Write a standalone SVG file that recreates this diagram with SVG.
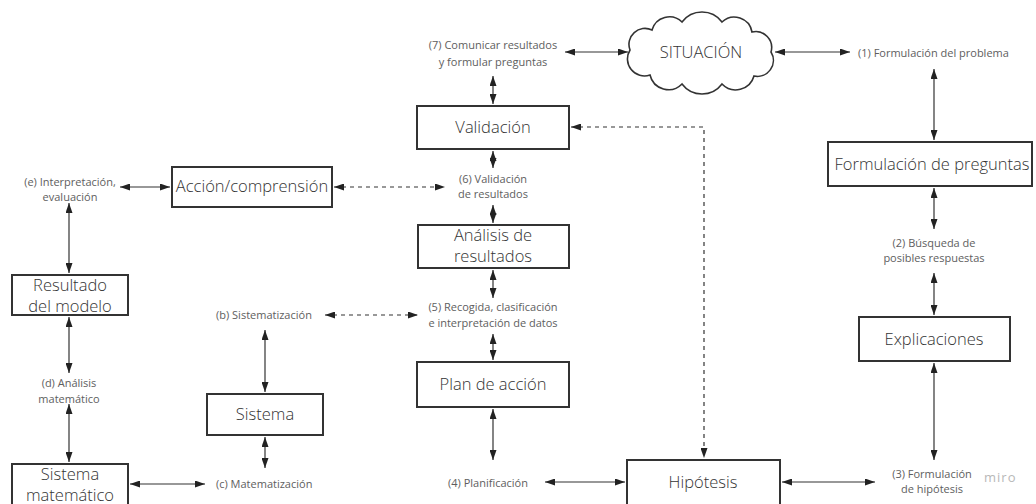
<svg xmlns="http://www.w3.org/2000/svg" width="1036" height="504" viewBox="0 0 1036 504">
  <style>
    .box { fill: #ffffff; stroke: #333333; stroke-width: 2; }
    .cloud { fill: #ffffff; stroke: #333333; stroke-width: 1.6; }
    .node-text { font-family: "Open Sans", "Liberation Sans", sans-serif; font-size: 16.5px; font-weight: 300; fill: #333333; text-anchor: middle; }
    .label { font-family: "Open Sans", "Liberation Sans", sans-serif; font-size: 11px; fill: #5e5e5e; }
    .mid { text-anchor: middle; }
    .link { fill: none; stroke: #333333; stroke-width: 1.2; marker-start: url(#tip); marker-end: url(#tip); }
    .dash { stroke-dasharray: 4 4; }
    .brand { font-family: "Open Sans", "Liberation Sans", sans-serif; font-size: 13px; fill: #b8b8b8; letter-spacing: 1px; }
  </style>
  <defs>
    <marker id="tip" viewBox="0 0 10 7" refX="10" refY="3.5" markerWidth="10" markerHeight="7" markerUnits="userSpaceOnUse" orient="auto-start-reverse">
      <path d="M0,0 L10,3.5 L0,7 z" fill="#222222"/>
    </marker>
  </defs>

  <rect width="1036" height="504" fill="#ffffff"/>

  <!-- connectors -->
  <g id="connectors">
    <!-- top row -->
    <line class="link" x1="565" y1="52" x2="628" y2="52"/>
    <line class="link" x1="775" y1="52" x2="850" y2="52"/>
    <!-- central column -->
    <line class="link" x1="493" y1="76" x2="493" y2="104"/>
    <line class="link" x1="493" y1="151" x2="493" y2="168"/>
    <line class="link" x1="493" y1="205" x2="493" y2="223"/>
    <line class="link" x1="493" y1="270" x2="493" y2="298"/>
    <line class="link" x1="493" y1="334" x2="493" y2="360"/>
    <line class="link" x1="493" y1="409" x2="493" y2="460"/>
    <!-- right column -->
    <line class="link" x1="934" y1="69" x2="934" y2="140"/>
    <line class="link" x1="934" y1="188" x2="934" y2="229"/>
    <line class="link" x1="934" y1="273" x2="934" y2="315"/>
    <line class="link" x1="934" y1="363" x2="934" y2="460"/>
    <!-- bottom row -->
    <line class="link" x1="875" y1="482" x2="782" y2="482"/>
    <line class="link" x1="545" y1="482" x2="625" y2="482"/>
    <!-- left column -->
    <line class="link" x1="120" y1="187" x2="170" y2="187"/>
    <line class="link" x1="69" y1="203" x2="69" y2="273"/>
    <line class="link" x1="69" y1="317" x2="69" y2="373"/>
    <line class="link" x1="69" y1="404" x2="69" y2="462"/>
    <line class="link" x1="130" y1="484" x2="205" y2="484"/>
    <line class="link" x1="265" y1="330" x2="265" y2="392"/>
    <line class="link" x1="265" y1="437" x2="265" y2="468"/>
    <!-- dashed links -->
    <line class="link dash" x1="334" y1="187" x2="445" y2="187"/>
    <line class="link dash" x1="325" y1="315" x2="418" y2="315"/>
    <path class="link dash" d="M571,127 L704,127 L704,458"/>
  </g>

  <!-- nodes -->
  <g id="situacion">
    <path class="cloud" d="M630,50 A16,16 0 0 1 652,30 A18,18 0 0 1 682,22 A25,25 0 0 1 722,22 A18,18 0 0 1 752,32 A16,16 0 0 1 771,52 A16,16 0 0 1 754,76 A19,19 0 0 1 722,84 A25,25 0 0 1 682,84 A19,19 0 0 1 650,75 A17,17 0 0 1 630,50 z"/>
    <text class="node-text" x="701" y="58">SITUACIÓN</text>
  </g>
  <g id="validacion">
    <rect class="box" x="417" y="106" width="152" height="43"/>
    <text class="node-text" x="493" y="133">Validación</text>
  </g>
  <g id="accion-comprension">
    <rect class="box" x="172" y="167" width="160" height="40"/>
    <text class="node-text" x="252" y="192">Acción/comprensión</text>
  </g>
  <g id="analisis-resultados">
    <rect class="box" x="418" y="225" width="151" height="43"/>
    <text class="node-text" x="493" y="241">Análisis de</text>
    <text class="node-text" x="493" y="262">resultados</text>
  </g>
  <g id="resultado-modelo">
    <rect class="box" x="12" y="275" width="116" height="40"/>
    <text class="node-text" x="70" y="291">Resultado</text>
    <text class="node-text" x="70" y="312">del modelo</text>
  </g>
  <g id="sistema">
    <rect class="box" x="207" y="394" width="116" height="41"/>
    <text class="node-text" x="265" y="420">Sistema</text>
  </g>
  <g id="sistema-matematico">
    <rect class="box" x="12" y="464" width="116" height="46"/>
    <text class="node-text" x="70" y="480">Sistema</text>
    <text class="node-text" x="70" y="501">matemático</text>
  </g>
  <g id="plan-accion">
    <rect class="box" x="417" y="362" width="152" height="45"/>
    <text class="node-text" x="493" y="390">Plan de acción</text>
  </g>
  <g id="hipotesis">
    <rect class="box" x="627" y="460" width="153" height="48"/>
    <text class="node-text" x="703" y="488">Hipótesis</text>
  </g>
  <g id="formulacion-preguntas">
    <rect class="box" x="828" y="142" width="204" height="44"/>
    <text class="node-text" x="932" y="170">Formulación de preguntas</text>
  </g>
  <g id="explicaciones">
    <rect class="box" x="859" y="317" width="151" height="44"/>
    <text class="node-text" x="934" y="345">Explicaciones</text>
  </g>

  <!-- step labels -->
  <g id="labels">
    <text class="label mid" x="493" y="49">(7) Comunicar resultados</text>
    <text class="label mid" x="493" y="66">y formular preguntas</text>
    <text class="label" x="858" y="57">(1) Formulación del problema</text>
    <text class="label mid" x="70" y="186">(e) Interpretación,</text>
    <text class="label mid" x="70" y="201">evaluación</text>
    <text class="label mid" x="493" y="183">(6) Validación</text>
    <text class="label mid" x="493" y="198">de resultados</text>
    <text class="label mid" x="934" y="247">(2) Búsqueda de</text>
    <text class="label mid" x="934" y="262">posibles respuestas</text>
    <text class="label" x="216" y="319">(b) Sistematización</text>
    <text class="label mid" x="493" y="311">(5) Recogida, clasificación</text>
    <text class="label mid" x="493" y="327">e interpretación de datos</text>
    <text class="label mid" x="69" y="387">(d) Análisis</text>
    <text class="label mid" x="69" y="403">matemático</text>
    <text class="label" x="216" y="488">(c) Matematización</text>
    <text class="label" x="448" y="487">(4) Planificación</text>
    <text class="label mid" x="932" y="478">(3) Formulación</text>
    <text class="label mid" x="932" y="493">de hipótesis</text>
    <text class="brand" x="984" y="482">miro</text>
  </g>
</svg>
